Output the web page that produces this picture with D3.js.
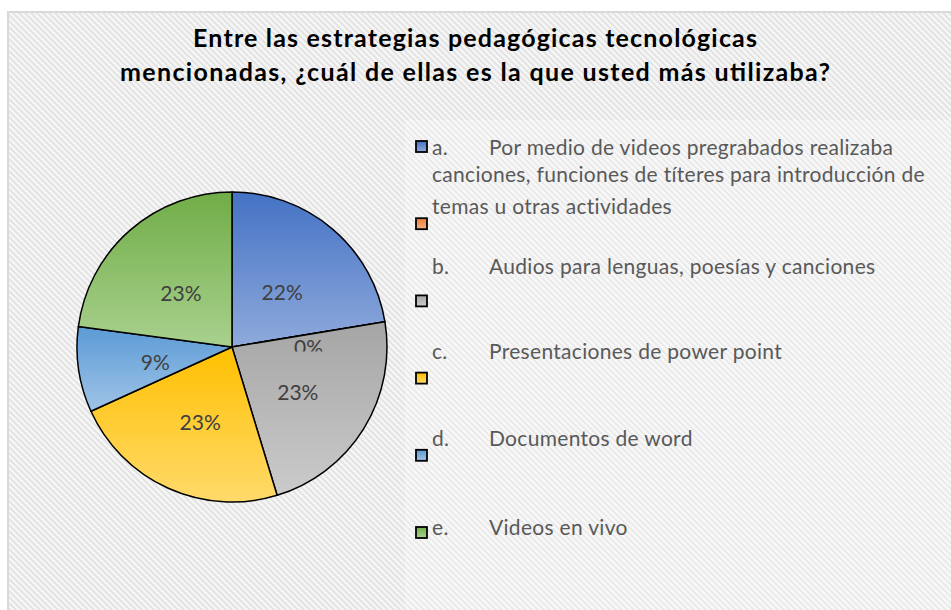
<!DOCTYPE html>
<html>
<head>
<meta charset="utf-8">
<script src="https://cdn.jsdelivr.net/npm/d3@7"></script>
<style>
  body { margin: 0; background: #fff; }
  svg { display: block; }
</style>
</head>
<body>
<div id="chart"></div>
<script>
// data
var titleLines = ["Entre las estrategias pedagógicas tecnológicas",
                  "mencionadas, ¿cuál de ellas es la que usted más utilizaba?"];
var categories = ["a", "a2", "b", "c", "d", "e"];
var values = [22.4, 0, 22.9, 22.9, 8.9, 22.9];
var legendLetters = ["a.", "", "b.", "c.", "d.", "e."];
var legendTexts = [
    ["Por medio de videos pregrabados realizaba", "canciones, funciones de títeres para introducción de", "temas u otras actividades"],
    [],
    ["Audios para lenguas, poesías y canciones"],
    ["Presentaciones de power point"],
    ["Documentos de word"],
    ["Videos en vivo"]
];
var colorsTop = ["#4472c4", "#ed7d31", "#a5a5a5", "#ffc000", "#5b9bd5", "#70ad47"];
var colorsBottom = ["#8faadc", "#f4b183", "#cbcbcb", "#ffda6b", "#a0c4e8", "#a9d18e"];

var width = 951, height = 610;
var cx = 232, cy = 347, radius = 155;

var svg = d3.select("#chart").append("svg")
    .attr("width", width)
    .attr("height", height);

var defs = svg.append("defs");

// background texture
var pat = defs.append("pattern")
    .attr("id", "texture")
    .attr("width", 6).attr("height", 6)
    .attr("patternUnits", "userSpaceOnUse");
pat.append("rect").attr("width", 6).attr("height", 6).attr("fill", "#f6f6f6");
pat.append("path")
    .attr("d", "M-1,-1 L7,7 M-4,2 L4,10 M2,-4 L10,4")
    .attr("stroke", "#e2e2e2")
    .attr("stroke-width", 1.8);

categories.forEach(function(c, i) {
    var g = defs.append("linearGradient")
        .attr("id", "grad-" + c)
        .attr("x1", 0).attr("y1", 0).attr("x2", 0).attr("y2", 1);
    g.append("stop").attr("offset", "0%").attr("stop-color", colorsTop[i]);
    g.append("stop").attr("offset", "100%").attr("stop-color", colorsBottom[i]);
});

svg.append("rect")
    .attr("x", 8).attr("y", 12)
    .attr("width", width).attr("height", height)
    .attr("fill", "url(#texture)")
    .attr("stroke", "#d9d9d9")
    .attr("stroke-width", 2);

// lighter legend area
svg.append("rect")
    .attr("x", 405).attr("y", 120)
    .attr("width", width - 405).attr("height", height - 120)
    .attr("fill", "#fff")
    .attr("opacity", 0.25);

// title
var titleWidths = [564, 710];
svg.append("text")
    .attr("text-anchor", "middle")
    .attr("font-family", "Lato, sans-serif")
    .attr("font-weight", "bold")
    .attr("font-size", "25px")
    .attr("fill", "#000")
    .selectAll("tspan")
    .data(titleLines)
    .enter().append("tspan")
    .attr("x", 475)
    .attr("y", function(d, i) { return 47 + i * 34; })
    .attr("textLength", function(d, i) { return titleWidths[i]; })
    .attr("lengthAdjust", "spacing")
    .text(function(d) { return d; });

// pie
var pie = d3.pie().sort(null).value(function(d) { return d; });
var arcs = pie(values);
var arc = d3.arc().innerRadius(0).outerRadius(radius);
var labelArc = d3.arc().innerRadius(radius * 0.5).outerRadius(radius * 0.5);

var gp = svg.append("g")
    .attr("transform", "translate(" + cx + "," + cy + ")");

gp.selectAll("path")
    .data(arcs)
    .enter().append("path")
    .attr("d", arc)
    .attr("fill", function(d, i) { return "url(#grad-" + categories[i] + ")"; })
    .attr("stroke", "#000")
    .attr("stroke-width", 1.5)
    .attr("stroke-linejoin", "round");

// labels on the pie
arcs.forEach(function(d, i) {
    var c = labelArc.centroid(d);
    var shift = d.value === 0 ? 21 : 12;
    var t = gp.append("text")
        .attr("x", c[0])
        .attr("y", c[1] + shift)
        .attr("text-anchor", "middle")
        .attr("font-family", "Lato, sans-serif")
        .attr("font-size", "21px")
        .attr("fill", "#404040")
        .text(Math.round(d.value) + "%");
    if (d.value === 0) {
        // excel cuts this one off
        defs.append("clipPath").attr("id", "clip-zero")
            .append("rect")
            .attr("x", c[0] - 30).attr("y", c[1] + shift - 30)
            .attr("width", 60).attr("height", 26);
        t.attr("clip-path", "url(#clip-zero)");
    }
});

// legend
var yLegend = d3.scalePoint()
    .domain(categories)
    .range([147, 533]);
var textOffset = [8, 0, -27, -20, -10, 2];
var lineGap = [0, 27, 59];

var lg = svg.append("g")
    .attr("font-family", "Lato, sans-serif")
    .attr("font-size", "21px")
    .attr("letter-spacing", "0.3px")
    .attr("fill", "#595959");

categories.forEach(function(c, i) {
    var y = yLegend(c);
    lg.append("rect")
        .attr("x", 416).attr("y", y - 6)
        .attr("width", 11).attr("height", 11)
        .attr("fill", "url(#grad-" + c + ")")
        .attr("stroke", "#000")
        .attr("stroke-width", 1.8);
    legendTexts[i].forEach(function(line, j) {
        var by = y + textOffset[i] + lineGap[j];
        if (j === 0) {
            lg.append("text").attr("x", 432).attr("y", by).text(legendLetters[i]);
            lg.append("text").attr("x", 489).attr("y", by).text(line);
        } else {
            lg.append("text").attr("x", 432).attr("y", by).text(line);
        }
    });
});
</script>
</body>
</html>
